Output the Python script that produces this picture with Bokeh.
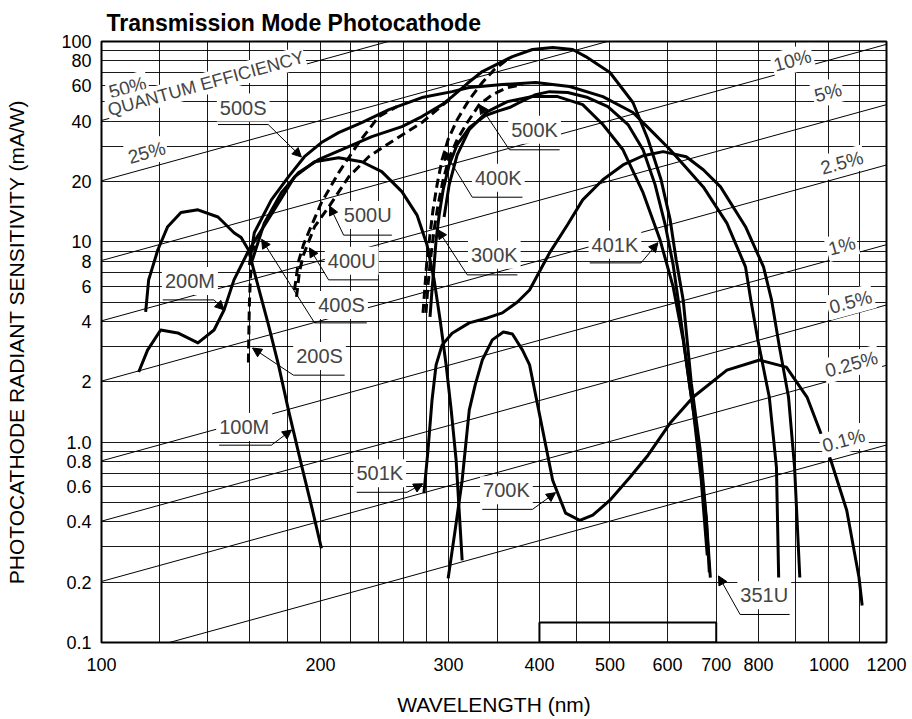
import math
from bokeh.plotting import figure
from bokeh.models import FixedTicker, Label, Arrow, NormalHead, CustomJSTickFormatter
from bokeh.embed import file_html
from bokeh.resources import INLINE

FONT = "Liberation Sans"

# ---------------- axes / grid ----------------
x_tick_values = [100, 200, 300, 400, 500, 600, 700, 800, 1000, 1200]
y_tick_values = [0.1, 0.2, 0.4, 0.6, 0.8, 1, 2, 4, 6, 8, 10, 20, 40, 60, 80, 100]
x_grid_values = [100, 120, 140, 160, 180, 200, 220, 240, 260, 280, 300, 350, 400, 450,
                 500, 600, 700, 800, 900, 1000, 1100, 1200]
y_grid_values = [0.1, 0.2, 0.3, 0.4, 0.5, 0.6, 0.7, 0.8, 0.9, 1, 2, 3, 4, 5, 6, 7, 8, 9,
                 10, 20, 30, 40, 50, 60, 70, 80, 90, 100]

# ---------------- quantum efficiency reference lines ----------------
qe_percent = [50, 25, 10, 5, 2.5, 1, 0.5, 0.25, 0.1]
qe_labels = ["50%", "25%", "10%", "5%", "2.5%", "1%", "0.5%", "0.25%", "0.1%"]
qe_wl_span = [100, 1200]
HC_NM = 1239.84  # photon energy constant (nm * W / A)

# ---------------- photocathode curves (nm, mA/W) ----------------
wl_100M = [115, 116.1, 119.5, 123.3, 128.6, 135.7, 144.6, 152.1, 155.6, 159.2, 162.2, 165.8,
           169.5, 175.1, 180.7, 188.3, 194.4, 200.6]
s_100M = [4.47, 6.46, 9.1, 11.9, 14.0, 14.45, 13.3, 11.1, 10.5, 9.12, 7.08, 5.25,
          3.89, 2.43, 1.45, 0.77, 0.48, 0.295]

wl_200M = [112.5, 115.7, 120.6, 127.3, 135.7, 142.8, 147.4, 152.1, 159.2, 164.3, 172.8, 184.2,
           196.3, 211.8, 227.9, 242.8, 258.8, 271.5, 280.2, 286.6, 292.1, 297.7, 302.5,
           307.3, 310.2, 313.2]
s_200M = [2.24, 2.88, 3.63, 3.51, 3.13, 3.63, 4.57, 6.46, 9.0, 10.8, 14.45, 21.1,
          25.1, 26.3, 25.1, 22.4, 17.8, 13.6, 9.66, 6.46, 4.07, 2.43, 1.45,
          0.81, 0.46, 0.257]

wl_200S = [159.2, 159.4, 159.7, 160.2, 161.0, 162.2]
s_200S = [2.5, 3.4, 4.9, 6.6, 8.2, 9.6]

wl_400S = [161.2, 167.4, 176.7, 186.5, 198.7, 218.7, 235.3, 258.8, 275.7, 293.9, 303.4, 318.3,
           333.8, 367.2, 391.3, 417.1, 444.4, 463.1, 500, 537.8, 564.1, 587.9, 605, 616.6,
           630.5, 646.9, 665.5, 678.3, 687.1]
s_400S = [8.1, 12.4, 17.6, 22.1, 25.7, 29.9, 33.5, 37.6, 42.2, 48.4, 53.1, 61.7,
          70.8, 84.1, 91.2, 93.3, 91.2, 84.1, 70.0, 49.6, 32.4, 20.4, 12.9, 8.13,
          5.13, 1.97, 0.91, 0.42, 0.211]

wl_400U = [185.4, 187.1, 189.5, 196.3, 205.2, 218.7, 233, 253.1, 275.7, 293.9, 303.4]
s_400U = [5.31, 7.08, 8.6, 11.9, 14.9, 21.1, 26.6, 32.4, 39.4, 47.9, 52.5]

wl_400K = [276.7, 278.5, 280.2, 282.9, 285.6, 289.3, 293.9, 299.6, 308.3, 320.3, 333.8,
           346.7, 361.4]
s_400K = [4.42, 6.10, 8.13, 10.85, 14.45, 19.3, 25.7, 32.4, 40.7, 51.3, 62.4, 72.4, 81.3]

wl_500S = [159.7, 162.2, 171.2, 180.7, 190.1, 200.6, 211.8, 227.9, 248.4, 275.7, 303.4, 320.3,
           355.7, 395.2, 440.2, 488.9, 537.8, 573.2, 605, 636.6, 671.9, 724, 768, 781, 800,
           828, 847, 853]
s_500S = [7.67, 11.1, 16.2, 21.1, 26.6, 31.3, 35.1, 39.4, 45.7, 52.5, 56.2, 58.9,
          61.0, 62.4, 59.6, 53.1, 44.2, 35.1, 28.8, 23.4, 18.8, 12.4, 7.5, 5.13, 3.13,
          1.68, 0.75, 0.211]

wl_500U = [184.2, 186.5, 189.5, 192.5, 200.6, 211.8, 225.8, 240.5, 254.7]
s_500U = [5.75, 7.94, 9.66, 11.1, 15.7, 22.1, 31.3, 42.2, 47.3]

wl_500K = [279.3, 281.1, 283.8, 286.6, 290.2, 294.9, 300.6, 308.3, 318.3, 330.6, 344.6,
           361.4, 379.1]
s_500K = [4.42, 6.10, 8.6, 11.5, 15.3, 20.4, 26.3, 32.4, 39.4, 48.4, 54.3, 58.9, 61.0]

wl_300K = [282.9, 284.7, 286.6, 288.4, 291.2, 294.9, 300.6, 308.3, 320.3, 337, 352.4, 363.8,
           375.5, 395.2, 413, 437.4, 466.1, 496.7, 529.4, 555.3, 576.8, 595.5, 610.8,
           620.6, 642.7, 663.4, 678.3, 684.9]
s_300K = [4.22, 5.75, 7.67, 10.2, 13.6, 18.2, 24.2, 30.6, 37.1, 42.7, 45.2, 46.8,
          49.6, 54.3, 56.2, 55.6, 52.5, 47.3, 38.5, 28.8, 19.3, 12.2, 7.67,
          5.13, 1.97, 0.912, 0.41, 0.224]

wl_401K = [295.8, 300.6, 308.3, 320.3, 339.2, 361.4, 391.3, 423.7, 458.7, 488.9, 521.1,
           555.3, 586.1, 610.8, 630.5, 650.9, 667.6, 680.4]
s_401K = [13.3, 19.3, 27.2, 36.3, 44.7, 50.1, 53.1, 53.1, 48.4, 38.5, 28.8,
          17.6, 10.2, 5.96, 3.24, 1.445, 0.646, 0.272]

wl_501K = [277.5, 281.1, 284.7, 288.4, 293.9, 303.4, 320.3, 339.2, 355.7, 373.1, 387.7, 413,
           437.4, 458.7, 488.9, 521.1, 555.3, 591.7, 636.6, 671.9, 709.7, 768, 813, 834,
           855, 880, 897, 912]
s_501K = [0.556, 0.912, 1.62, 2.43, 3.05, 3.50, 3.94, 4.17, 4.42, 5.01, 5.75, 8.81,
          12.2, 16.2, 20.4, 24.2, 26.9, 28.2, 26.6, 22.9, 18.8, 11.9, 7.5, 5.13,
          2.99, 1.68, 0.75, 0.211]

wl_700K = [299.6, 306.3, 313.2, 320.3, 326.4, 333.8, 344.6, 356.8, 367.2, 379.1, 387.7, 395.2,
           404.1, 417.1, 434.6, 454.5, 473.6, 500, 532.7, 564.1, 605, 650.9, 724, 803, 874,
           933, 971, 1006, 1058, 1100, 1111]
s_700K = [0.209, 0.363, 0.646, 1.445, 1.93, 2.57, 3.24, 3.55, 3.47, 2.88, 2.43, 1.72,
          1.15, 0.646, 0.442, 0.407, 0.432, 0.513, 0.668, 0.861, 1.245, 1.68, 2.29, 2.57,
          2.37, 1.68, 1.15, 0.813, 0.457, 0.211, 0.153]

# visible-light band marker on the bottom axis
band_wl = [400, 700]
band_top = [0.126]

curves = [
    (wl_100M, s_100M, "solid"), (wl_200M, s_200M, "solid"), (wl_200S, s_200S, "9 5"),
    (wl_400S, s_400S, "solid"), (wl_400U, s_400U, "9 5"), (wl_400K, s_400K, "9 5"),
    (wl_500S, s_500S, "solid"), (wl_500U, s_500U, "9 5"), (wl_500K, s_500K, "9 5"),
    (wl_300K, s_300K, "solid"), (wl_401K, s_401K, "solid"), (wl_501K, s_501K, "solid"),
    (wl_700K, s_700K, "solid"),
]

# label layout: text, text position, underline x1,x2,y, arrow start x, tip x,y
curve_label_layout = [
    ("500S", 156.6, 46.8, 144.6, 169.5, 38.5, 169.5, 188.3, 26.5),
    ("500U", 232.3, 13.6, 215.2, 250.7, 10.8, 215.2, 205.9, 15.1),
    ("400U", 220.8, 8.04, 205.2, 240.5, 6.46, 205.2, 193.1, 9.33),
    ("400S", 213.8, 4.84, 196.3, 231.6, 3.94, 196.3, 166.0, 10.3),
    ("200S", 199.4, 2.69, 183.6, 215.9, 2.16, 183.6, 161.3, 2.95),
    ("200M", 132.3, 6.38, 121.4, 142.8, 5.13, 142.8, 147.4, 4.57),
    ("100M", 157.1, 1.19, 145.1, 171.2, 0.966, 171.2, 182.5, 1.15),
    ("500K", 393.9, 36.3, 363.8, 426.4, 28.8, 363.8, 330.6, 48.4),
    ("400K", 351.2, 20.9, 323.4, 379.1, 16.7, 323.4, 295.5, 28.5),
    ("300K", 346.7, 8.61, 318.3, 373.1, 6.84, 318.3, 290.0, 11.5),
    ("401K", 508.0, 9.66, 469.1, 551.7, 7.85, 551.7, 582.0, 9.9),
    ("501K", 241.3, 0.70, 224.3, 263.0, 0.562, 263.0, 276.5, 0.62),
    ("700K", 360.3, 0.575, 333.8, 391.3, 0.462, 391.3, 421.0, 0.56),
    ("351U", 815.0, 0.172, 755.0, 883.0, 0.138, 755.0, 705.0, 0.215),
]
qe_label_layout = [(108.6, 58.9), (115.4, 27.9), (891, 80.4), (997, 55.6), (1042, 24.8),
                   (1042, 9.55), (1071, 5.01), (1074, 2.45), (1048, 1.02)]

FW, FH = 785, 601
X0, X1, Y0, Y1 = 100, 1200, 0.1, 100

p = figure(x_axis_type="log", y_axis_type="log", x_range=(X0, X1), y_range=(Y0, Y1),
           frame_width=FW, frame_height=FH, min_border_left=101, min_border_right=22,
           min_border_top=41, min_border_bottom=76,
           output_backend="svg", toolbar_location=None,
           title="Transmission Mode Photocathode")
p.background_fill_color = "white"
p.border_fill_color = "white"
p.outline_line_color = "black"
p.outline_line_width = 2

p.title.text_font = FONT
p.title.text_font_size = "23px"
p.title.text_font_style = "bold"
p.title.text_color = "black"
p.title.align = "left"
p.title.offset = 5
p.title.standoff = 12

p.xgrid.ticker = FixedTicker(ticks=x_grid_values)
p.ygrid.ticker = FixedTicker(ticks=y_grid_values)
for g in (p.xgrid, p.ygrid):
    g.grid_line_color = "black"
    g.grid_line_width = 1
    g.grid_line_alpha = 0.9

p.xaxis.ticker = FixedTicker(ticks=x_tick_values)
p.yaxis.ticker = FixedTicker(ticks=y_tick_values)
p.xaxis.formatter = CustomJSTickFormatter(code="return String(Math.round(tick));")
p.yaxis.formatter = CustomJSTickFormatter(
    code="if (Math.abs(tick - 1) < 1e-9) { return '1.0'; } return String(+tick.toPrecision(6));")
for ax in (p.xaxis, p.yaxis):
    ax.major_tick_line_color = None
    ax.minor_tick_line_color = None
    ax.major_tick_out = 0
    ax.major_tick_in = 0
    ax.minor_tick_out = 0
    ax.axis_line_color = None
    ax.major_label_text_font = FONT
    ax.major_label_text_font_size = "18px"
    ax.major_label_text_color = "black"
    ax.axis_label_text_font = FONT
    ax.axis_label_text_font_size = "21px"
    ax.axis_label_text_font_style = "normal"
    ax.axis_label_text_color = "black"
p.xaxis.major_label_standoff = 15
p.yaxis.major_label_standoff = 10
p.xaxis.axis_label = "WAVELENGTH (nm)"
p.xaxis.axis_label_standoff = 19
p.yaxis.axis_label = "PHOTOCATHODE RADIANT SENSITIVITY (mA/W)"
p.yaxis.axis_label_standoff = 30

# quantum efficiency lines
for q in qe_percent:
    p.line(qe_wl_span, [q / 100.0 * w * 1000.0 / HC_NM for w in qe_wl_span],
           line_color="black", line_width=1)

# photocathode curves
for wl, s, dash in curves:
    p.line(wl, s, line_color="black", line_width=3, line_dash=dash, line_join="round")

# visible band rectangle
p.quad(left=[band_wl[0]], right=[band_wl[1]], bottom=[Y0], top=band_top,
       fill_alpha=0, line_color="black", line_width=2)

ANG = math.atan((FH / math.log10(Y1 / Y0)) / (FW / math.log10(X1 / X0)))

# QE labels
for (lx, ly), txt in zip(qe_label_layout, qe_labels):
    p.add_layout(Label(x=lx, y=ly, text=txt, angle=ANG, text_align="center",
                       text_baseline="middle", text_font=FONT, text_font_size="19px",
                       background_fill_color="white", padding=2))
p.add_layout(Label(x=139.2, y=61.7, text="QUANTUM EFFICIENCY", angle=ANG, text_align="center",
                   text_baseline="middle", text_font=FONT, text_font_size="18px",
                   background_fill_color="white", padding=1))

# curve labels
for (txt, tx, ty, u1, u2, uy, ax0, tipx, tipy) in curve_label_layout:
    p.add_layout(Label(x=tx, y=ty, text=txt, text_align="center", text_baseline="middle",
                       text_font=FONT, text_font_size="20px",
                       background_fill_color="white", padding=3))
for (txt, tx, ty, u1, u2, uy, ax0, tipx, tipy) in curve_label_layout:
    p.add_layout(Arrow(end=None, x_start=u1, y_start=uy, x_end=u2, y_end=uy,
                       line_color="black", line_width=1))
    p.add_layout(Arrow(end=NormalHead(size=9, line_color="black", fill_color="black", line_width=1),
                       x_start=ax0, y_start=uy, x_end=tipx, y_end=tipy,
                       line_color="black", line_width=1))

open("out.html", "w").write(file_html(p, INLINE))
